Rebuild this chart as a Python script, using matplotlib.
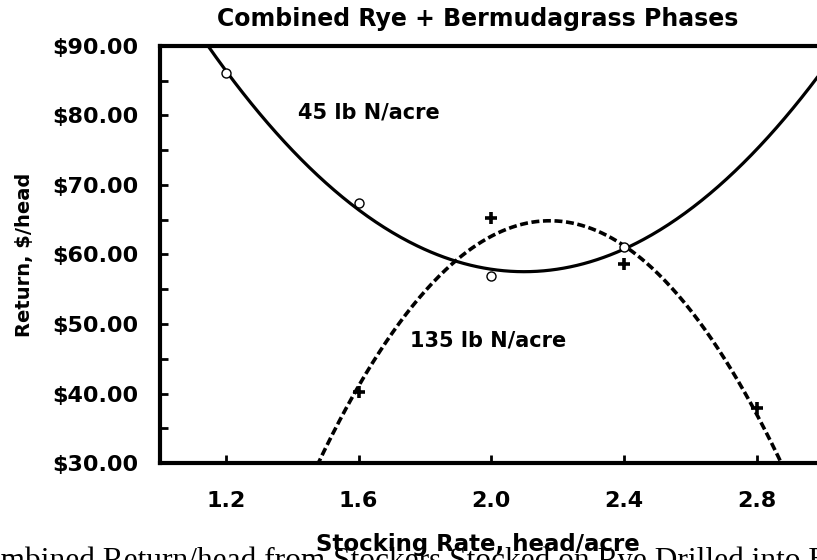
import numpy as np
import matplotlib.pyplot as plt
from matplotlib.ticker import MultipleLocator, FuncFormatter

# observed returns, $/head
RATE_45 = [1.2, 1.6, 2.0, 2.4]
RET_45 = [86.1, 67.4, 56.9, 61.1]

RATE_135 = [1.6, 2.0, 2.4, 2.8]
RET_135 = [40.2, 65.3, 58.6, 37.9]

X_TICKS = [1.2, 1.6, 2.0, 2.4, 2.8]

plt.rcParams["font.family"] = ["DejaVu Sans"]
plt.rcParams["font.weight"] = "bold"

fig = plt.figure(figsize=(8.17, 5.6), dpi=100)
ax = fig.add_axes([0.1954, 0.1732, 0.812, 0.7447])

# quadratic trend lines fitted to the observed points
xs = np.linspace(1.0, 3.0, 400)
fit45 = np.poly1d(np.polyfit(RATE_45, RET_45, 2))
fit135 = np.poly1d(np.polyfit(RATE_135, RET_135, 2))

ax.plot(xs, fit45(xs), color="black", lw=2.3, solid_capstyle="butt")
ax.plot(xs, fit135(xs), color="black", lw=2.6, dashes=(2.2, 1.0))

ax.plot(RATE_45, RET_45, "o", ms=6.5, mfc="white", mec="black", mew=1.0)
ax.plot(RATE_135, RET_135, "+", ms=9, mec="black", mew=2.6)

ax.text(1.63, 80.4, "45 lb N/acre", ha="center", va="center", fontsize=15, fontweight="bold")
ax.text(1.99, 47.6, "135 lb N/acre", ha="center", va="center", fontsize=15, fontweight="bold")

ax.set_xlim(1.0, 3.0)
ax.set_ylim(30, 90)
ax.set_xticks(X_TICKS)
ax.set_xticklabels([f"{v:.1f}" for v in X_TICKS])
ax.yaxis.set_major_locator(MultipleLocator(10))
ax.yaxis.set_minor_locator(MultipleLocator(5))
ax.yaxis.set_major_formatter(FuncFormatter(lambda v, p: f"${v:.2f}"))

for s in ax.spines.values():
    s.set_linewidth(3.0)

ax.tick_params(axis="both", which="both", direction="in", length=6, width=2,
               labelsize=16, top=False, right=False)
ax.tick_params(axis="x", pad=20)
ax.tick_params(axis="y", pad=15)
for lab in ax.get_xticklabels() + ax.get_yticklabels():
    lab.set_fontweight("bold")

ax.set_xlabel("Stocking Rate, head/acre", fontsize=16.5, fontweight="bold")
ax.xaxis.set_label_coords(0.48, -0.168)
ax.set_ylabel("Return, $/head", fontsize=14, fontweight="bold")
ax.yaxis.set_label_coords(-0.19, 0.5)

fig.text(0.585, 0.966, "Combined Rye + Bermudagrass Phases", ha="center", va="center",
         fontsize=17, fontweight="bold")

# caption of the source figure, cut off at the bottom edge
fig.text(-0.044, -0.016, "Combined Return/head from Stockers Stocked on Rye Drilled into Bermudagrass",
         ha="left", va="baseline", fontsize=22.6, fontweight="normal",
         family=["Liberation Serif", "DejaVu Serif"], zorder=0)

fig.savefig("out.png", dpi=100)
